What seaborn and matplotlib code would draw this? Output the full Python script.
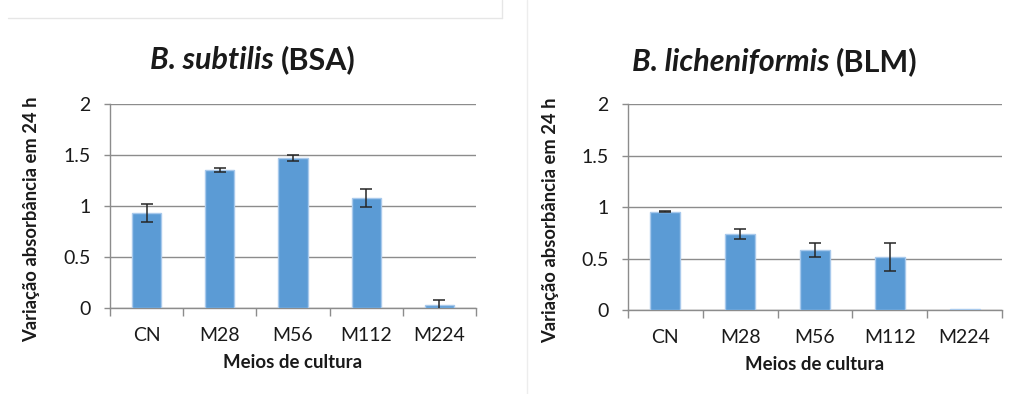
import matplotlib
matplotlib.use("Agg")
import matplotlib.pyplot as plt
import seaborn as sns
import pandas as pd
import numpy as np
from matplotlib.lines import Line2D

categories = ["CN", "M28", "M56", "M112", "M224"]
bsa_values = [0.93, 1.35, 1.47, 1.08, 0.03]
bsa_errors = [0.09, 0.02, 0.025, 0.09, 0.045]
blm_values = [0.955, 0.74, 0.585, 0.515, 0.005]
blm_errors = [0.005, 0.045, 0.065, 0.14, 0.0]
y_ticks = [0, 0.5, 1, 1.5, 2]
y_tick_labels = ["0", "0.5", "1", "1.5", "2"]

sns.set_theme(style="white")
FONT = ["Lato", "DejaVu Sans"]
plt.rcParams["font.family"] = FONT

BAR = "#5B9BD5"
GRID = "#8C8C8C"
TXT = "#1a1a1a"

fig = plt.figure(figsize=(10.10, 3.94), dpi=100)

panels = [
    dict(rect=[0.1089, 0.2183, 0.3624, 0.5178], vals=bsa_values, errs=bsa_errors,
         it="B. subtilis ", rest="(BSA)", tc=253 / 1010, ty=1 - 60 / 394, ylab_y=0.436, ylab_x=-0.19),
    dict(rect=[0.6218, 0.2132, 0.3703, 0.5220], vals=blm_values, errs=blm_errors,
         it="B. licheniformis ", rest="(BLM)", tc=775 / 1010, ty=1 - 62 / 394, ylab_y=0.437, ylab_x=-0.185),
]

titles = []
for p in panels:
    ax = fig.add_axes(p["rect"])
    df = pd.DataFrame({"meio": categories, "valor": p["vals"], "erro": p["errs"]})
    sns.barplot(data=df, x="meio", y="valor", order=categories, color=BAR,
                width=0.4, saturation=1, edgecolor="#A8C9EC", linewidth=1.0,
                errorbar=None, ax=ax, zorder=3)
    pos = np.arange(len(categories))
    m = df["erro"].to_numpy() > 0
    ax.errorbar(pos[m], df["valor"].to_numpy()[m], yerr=df["erro"].to_numpy()[m], fmt="none",
                ecolor="#262626", elinewidth=1.1, capsize=4, capthick=1.1, zorder=4)
    ax.set_xlim(-0.5, len(categories) - 0.5)
    ax.set_ylim(0, 2)
    ax.set_yticks(y_ticks)
    ax.set_yticklabels(y_tick_labels)
    ax.yaxis.grid(True, color=GRID, linewidth=1.0, zorder=0)
    ax.xaxis.grid(False)
    ax.set_axisbelow(True)
    for s in ["top", "right"]:
        ax.spines[s].set_visible(False)
    for s in ["left", "bottom"]:
        ax.spines[s].set_color(GRID)
        ax.spines[s].set_linewidth(1.0)
    ax.tick_params(axis="x", which="major", length=0, pad=14, labelsize=14, labelcolor=TXT)
    ax.set_xticks(np.arange(-0.5, len(categories), 1.0), minor=True)
    ax.tick_params(axis="x", which="minor", direction="out", length=6, color=GRID, width=1.0, bottom=True)
    ax.tick_params(axis="y", direction="out", length=4, color=GRID, width=1.0, pad=10,
                   labelsize=14, labelcolor=TXT, left=True)
    ax.set_xlabel("Meios de cultura", fontsize=13.4, fontweight="bold", color=TXT, labelpad=7)
    ax.set_ylabel("Variação absorbância em 24 h", fontsize=13.2, fontweight="bold", color=TXT)
    ax.yaxis.set_label_coords(p["ylab_x"], p["ylab_y"])
    t1 = fig.text(p["tc"], p["ty"], p["it"], fontsize=22, fontweight="bold", fontstyle="italic",
                  color=TXT, ha="left", va="center")
    t2 = fig.text(p["tc"], p["ty"], p["rest"], fontsize=22, fontweight="bold",
                  color=TXT, ha="left", va="center")
    titles.append((t1, t2, p["tc"]))

fig.canvas.draw()
r = fig.canvas.get_renderer()
for t1, t2, tc in titles:
    w1 = t1.get_window_extent(r).width / fig.bbox.width
    w2 = t2.get_window_extent(r).width / fig.bbox.width
    x0 = tc - (w1 + w2) / 2
    t1.set_x(x0)
    t2.set_x(x0 + w1)

# faint chart-frame borders
fig.add_artist(Line2D([8 / 1010, 502 / 1010], [1 - 18 / 394, 1 - 18 / 394], color="#E6E6E6", lw=1))
fig.add_artist(Line2D([502 / 1010, 502 / 1010], [1 - 18 / 394, 1.0], color="#E6E6E6", lw=1))
fig.add_artist(Line2D([527 / 1010, 527 / 1010], [0, 1.0], color="#EDEDED", lw=1))

fig.savefig("out.png", dpi=100)
